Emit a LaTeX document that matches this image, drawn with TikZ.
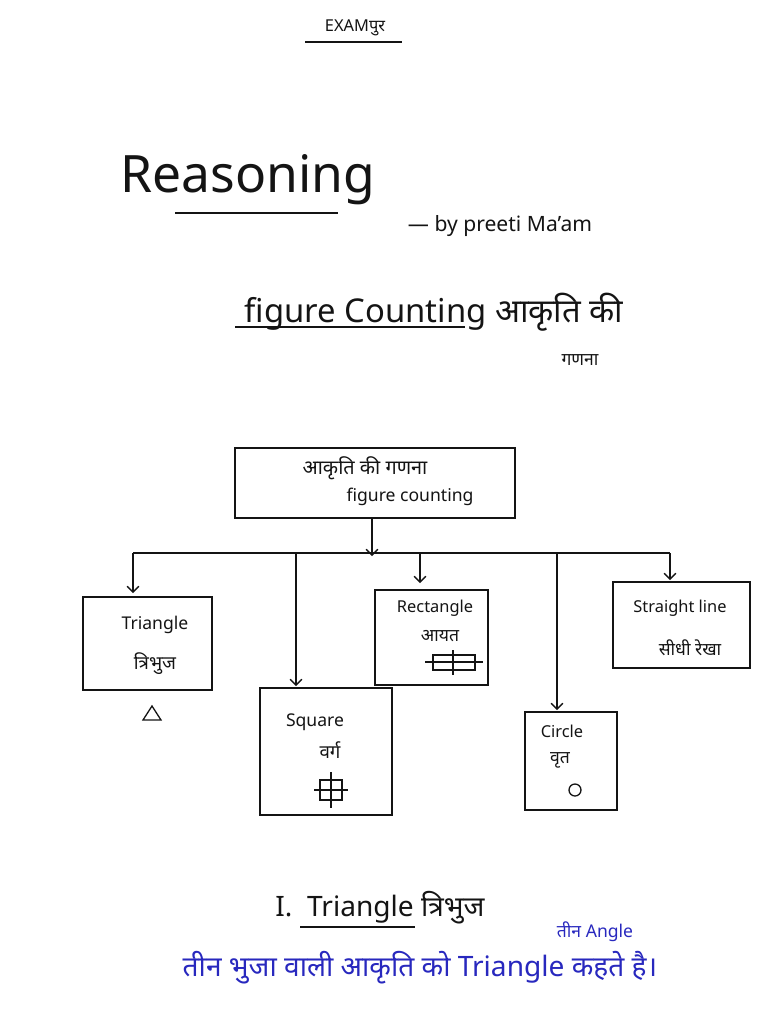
\documentclass[tikz,border=0pt]{standalone}
\usepackage{fontspec}
\setmainfont[Script=Devanagari]{Noto Sans}
\usetikzlibrary{arrows.meta}
\definecolor{ink}{RGB}{20,20,20}
\definecolor{pen}{RGB}{40,40,190}
\tikzset{catbox/.style={draw=ink,line width=1.3pt,align=center,inner sep=0pt},
 arr/.style={draw=ink,line width=1.1pt,-{Straight Barb[length=5pt]}},
 ln/.style={draw=ink,line width=1.1pt}}
\begin{document}
\begin{tikzpicture}[x=0.03cm,y=-0.03cm,every node/.style={text=ink}]
\useasboundingbox (0,0) rectangle (768,1024);
\node (brand) at (355,28) {\fontsize{14}{16}\selectfont EXAMपुर};
\draw[ln] (305,42) -- (402,42);
\node (title) at (248,180) {\fontsize{44}{48}\selectfont Reasoning};
\draw[ln] (175,213) -- (338,213);
\node (by) at (500,226) {\fontsize{18}{20}\selectfont — by preeti Ma'am};
\node (fc) at (434,312) {\fontsize{28}{32}\selectfont figure Counting आकृति की};
\draw[ln] (235,327) -- (465,327);
\node (gn) at (580,360) {\fontsize{15}{18}\selectfont गणना};
% main box
\draw[catbox] (235,448) rectangle (515,518);
\node (m1) at (365,468) {\fontsize{17}{20}\selectfont आकृति की गणना};
\node (m2) at (410,497) {\fontsize{15}{18}\selectfont figure counting};
\coordinate (mb) at (372,518);
\coordinate (mj) at (372,556);
\draw[arr] (mb) -- (mj);
\coordinate (hl) at (133,553); \coordinate (hr) at (670,553);
\draw[ln] (hl) -- (hr);
% boxes
\draw[catbox] (83,597) rectangle (212,690);
\node at (155,625) {\fontsize{15}{18}\selectfont Triangle};
\node at (155,664) {\fontsize{16}{18}\selectfont त्रिभुज};
\draw[ln] (143,720) -- (152,706) -- (161,720) -- cycle;
\draw[catbox] (260,688) rectangle (392,815);
\node at (315,722) {\fontsize{15}{18}\selectfont Square};
\node at (330,750) {\fontsize{16}{18}\selectfont वर्ग};
\draw[ln] (320,780) rectangle (342,800); \draw[ln] (314,790)--(348,790); \draw[ln] (331,772)--(331,808);
\draw[catbox] (375,590) rectangle (488,685);
\node at (435,608) {\fontsize{14}{16}\selectfont Rectangle};
\node at (440,636) {\fontsize{15}{18}\selectfont आयत};
\draw[ln] (433,655) rectangle (475,670); \draw[ln] (425,662)--(483,662); \draw[ln] (453,650)--(453,675);
\draw[catbox] (525,712) rectangle (617,810);
\node at (562,731) {\fontsize{14}{16}\selectfont Circle};
\node at (560,760) {\fontsize{15}{18}\selectfont वृत};
\draw[ln] (575,790) circle (6);
\draw[catbox] (613,582) rectangle (750,668);
\node at (680,608) {\fontsize{14}{16}\selectfont Straight line};
\node at (690,648) {\fontsize{15}{18}\selectfont सीधी रेखा};
\draw[arr] (133,553) -- (133,593);
\draw[arr] (296,553) -- (296,686);
\draw[arr] (420,553) -- (420,583);
\draw[arr] (557,553) -- (557,710);
\draw[arr] (670,553) -- (670,580);
% bottom
\node (t1) at (380,908) {\fontsize{24}{28}\selectfont I.\ \ Triangle त्रिभुज};
\draw[ln] (300,927) -- (415,927);
\node[text=pen] (t2) at (595,932) {\fontsize{15}{18}\selectfont तीन Angle};
\node[text=pen] (t3) at (420,968) {\fontsize{24}{28}\selectfont तीन भुजा वाली आकृति को Triangle कहते है।};
\end{tikzpicture}
\end{document}
